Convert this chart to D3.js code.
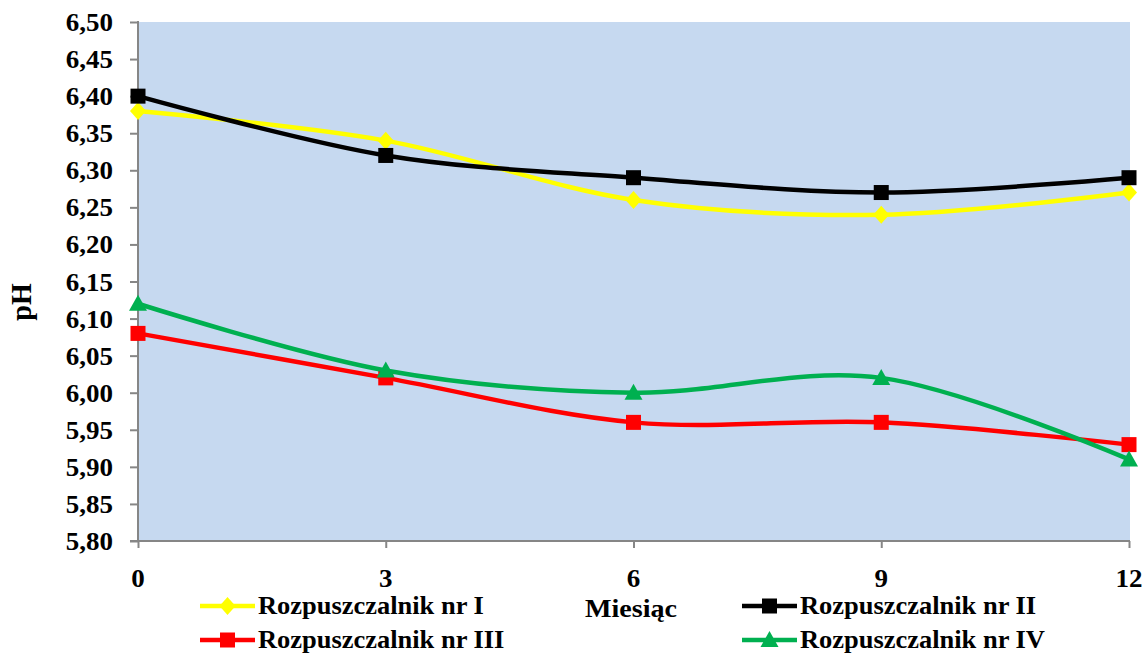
<!DOCTYPE html>
<html>
<head>
<meta charset="utf-8">
<script src="https://cdn.jsdelivr.net/npm/d3@7"></script>
<style>
  html, body { margin: 0; padding: 0; background: #ffffff; }
  svg text { font-family: "Liberation Serif", "Times New Roman", serif; font-weight: bold; fill: #000; }
</style>
</head>
<body>
<svg id="chart" width="1147" height="654"></svg>
<script>
// Months of storage
const months = [0, 3, 6, 9, 12];
const xTicks = [0, 3, 6, 9, 12];
const yTicks = [5.80, 5.85, 5.90, 5.95, 6.00, 6.05, 6.10, 6.15, 6.20, 6.25, 6.30, 6.35, 6.40, 6.45, 6.50];

// pH of each solvent
const seriesNames = ["Rozpuszczalnik nr I", "Rozpuszczalnik nr II", "Rozpuszczalnik nr III", "Rozpuszczalnik nr IV"];
const solventI   = [6.38, 6.34, 6.26, 6.24, 6.27];
const solventII  = [6.40, 6.32, 6.29, 6.27, 6.29];
const solventIII = [6.08, 6.02, 5.96, 5.96, 5.93];
const solventIV  = [6.12, 6.03, 6.00, 6.02, 5.91];

const xTitle = "Miesiąc";
const yTitle = "pH";

const series = [
  { name: seriesNames[0], values: solventI,   color: "#FFFF00", marker: "diamond" },
  { name: seriesNames[1], values: solventII,  color: "#000000", marker: "square" },
  { name: seriesNames[2], values: solventIII, color: "#FF0000", marker: "square" },
  { name: seriesNames[3], values: solventIV,  color: "#00B050", marker: "triangle" }
];

const svg = d3.select("#chart");
const plot = { left: 138, right: 1129, top: 22, bottom: 541 };
const sx = 1.08; // slight horizontal widening of the lettering

const x = d3.scaleLinear().domain([0, 12]).range([plot.left, plot.right]);
const y = d3.scaleLinear().domain([5.80, 6.50]).range([plot.bottom, plot.top]);

// plot background
svg.append("rect")
  .attr("x", plot.left).attr("y", plot.top)
  .attr("width", plot.right - plot.left + 1).attr("height", plot.bottom - plot.top)
  .attr("fill", "#C6D9F0");

const fmt = v => v.toFixed(2).replace(".", ",");

// Y axis
const yAxis = svg.append("g").attr("transform", `translate(${plot.left},0)`)
  .call(d3.axisLeft(y).tickValues(yTicks).tickSize(8).tickFormat(""));
yAxis.selectAll("line, path").attr("stroke", "#868686").attr("stroke-width", 2);
yAxis.select("path").attr("d", `M0,${plot.top - 1}V${plot.bottom}`);

svg.append("g").selectAll("text").data(yTicks).join("text")
  .attr("transform", d => `translate(113,${y(d) + 9}) scale(${sx},1)`)
  .attr("text-anchor", "end")
  .style("font-size", "25px")
  .text(fmt);

// X axis
const xAxis = svg.append("g").attr("transform", `translate(0,${plot.bottom})`)
  .call(d3.axisBottom(x).tickValues(xTicks).tickSize(7).tickFormat(""));
xAxis.selectAll("line, path").attr("stroke", "#868686").attr("stroke-width", 2);
xAxis.select("path").attr("d", `M${plot.left - 8},0H${plot.right + 1}`);

svg.append("g").selectAll("text").data(xTicks).join("text")
  .attr("transform", d => `translate(${x(d)},587) scale(${sx},1)`)
  .attr("text-anchor", "middle")
  .style("font-size", "25px")
  .text(d => d);

// Axis titles
svg.append("text")
  .attr("transform", `translate(631,617) scale(${sx},1)`)
  .attr("text-anchor", "middle")
  .style("font-size", "26px")
  .text(xTitle);

svg.append("text")
  .attr("transform", `translate(31,302) scale(${sx},1) rotate(-90)`)
  .attr("text-anchor", "middle")
  .style("font-size", "28px")
  .text(yTitle);

// Markers
function drawMarker(g, type, color, cx, cy) {
  if (type === "square") {
    g.append("rect").attr("x", cx - 7.5).attr("y", cy - 7.5)
      .attr("width", 15).attr("height", 15).attr("fill", color);
  } else if (type === "diamond") {
    g.append("path").attr("d", `M${cx},${cy - 9}L${cx + 8},${cy}L${cx},${cy + 9}L${cx - 8},${cy}Z`)
      .attr("fill", color);
  } else {
    g.append("path").attr("d", `M${cx},${cy - 9}L${cx + 9},${cy + 7}L${cx - 9},${cy + 7}Z`)
      .attr("fill", color);
  }
}

// Smoothed lines
const line = d3.line()
  .x((d, i) => x(months[i]))
  .y(d => y(d))
  .curve(d3.curveCardinal.tension(0));

series.forEach(s => {
  const g = svg.append("g");
  g.append("path").attr("d", line(s.values))
    .attr("fill", "none").attr("stroke", s.color)
    .attr("stroke-width", 4.5).attr("stroke-linejoin", "round");
  s.values.forEach((v, i) => drawMarker(g, s.marker, s.color, x(months[i]), y(v)));
});

// Legend
const legendPos = [
  { lx: 200, ty: 606 },
  { lx: 742, ty: 606 },
  { lx: 200, ty: 640 },
  { lx: 742, ty: 640 }
];
series.forEach((s, k) => {
  const p = legendPos[k];
  const g = svg.append("g");
  g.append("line").attr("x1", p.lx).attr("x2", p.lx + 55)
    .attr("y1", p.ty).attr("y2", p.ty)
    .attr("stroke", s.color).attr("stroke-width", 4.5);
  drawMarker(g, s.marker, s.color, p.lx + 27.5, p.ty);
  g.append("text")
    .attr("transform", `translate(${p.lx + 58},${p.ty + 8}) scale(${sx},1)`)
    .style("font-size", "24.5px")
    .text(s.name);
});
</script>
</body>
</html>
